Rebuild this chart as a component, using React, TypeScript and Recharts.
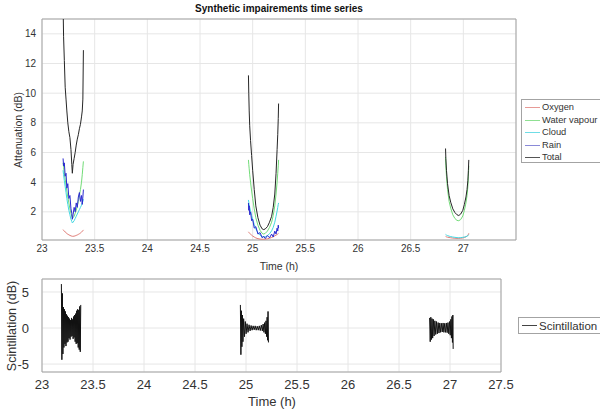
import { CartesianGrid, Line, LineChart, ReferenceArea, XAxis, YAxis } from 'recharts';

// ---- attenuation passes (h, dB) ----
const t1 = [23.2, 23.205, 23.212, 23.22, 23.228, 23.236, 23.245, 23.255, 23.265, 23.275, 23.283, 23.288, 23.295, 23.305, 23.315, 23.325, 23.335, 23.345, 23.355, 23.365, 23.375, 23.382, 23.388, 23.393];
const oxygen1 = [0.8, 0.75, 0.7, 0.64, 0.59, 0.54, 0.49, 0.45, 0.41, 0.38, 0.36, 0.35, 0.35, 0.36, 0.38, 0.41, 0.44, 0.48, 0.52, 0.57, 0.63, 0.68, 0.73, 0.78];
const water1 = [5.3, 5.0, 4.6, 4.2, 3.8, 3.4, 3.0, 2.6, 2.2, 1.9, 1.7, 1.6, 1.6, 1.7, 1.9, 2.1, 2.4, 2.7, 3.1, 3.5, 4.0, 4.5, 5.0, 5.4];
const cloud1 = [4.8, 4.5, 4.1, 3.7, 3.3, 2.9, 2.5, 2.1, 1.8, 1.5, 1.35, 1.25, 1.3, 1.4, 1.55, 1.7, 1.85, 2.0, 2.15, 2.3, 2.45, 2.6, 2.7, 2.85];
const rain1 = [5.6, 5.1, 5.3, 4.4, 4.6, 3.6, 3.9, 2.9, 3.1, 2.2, 1.9, 1.5, 1.8, 2.3, 2.0, 2.6, 2.3, 3.0, 3.3, 2.7, 3.1, 2.5, 3.0, 3.5];
const total1 = [16, 13.8, 12.2, 10.4, 9.6, 8.8, 8.0, 7.4, 7.0, 6.2, 5.2, 4.6, 5.2, 5.6, 6.0, 6.5, 6.9, 7.2, 7.6, 7.9, 8.4, 8.8, 9.6, 12.9];

const t2 = [24.96, 24.963, 24.967, 24.972, 24.98, 24.99, 25.0, 25.015, 25.03, 25.05, 25.07, 25.09, 25.105, 25.12, 25.14, 25.16, 25.18, 25.195, 25.21, 25.222, 25.232, 25.238, 25.243, 25.246];
const oxygen2 = [0.65, 0.62, 0.58, 0.54, 0.49, 0.43, 0.37, 0.3, 0.24, 0.19, 0.16, 0.15, 0.15, 0.16, 0.18, 0.22, 0.27, 0.32, 0.38, 0.43, 0.47, 0.5, 0.53, 0.55];
const water2 = [5.5, 5.2, 4.9, 4.5, 4.0, 3.4, 2.9, 2.2, 1.6, 1.1, 0.75, 0.55, 0.5, 0.55, 0.7, 0.95, 1.3, 1.75, 2.4, 3.2, 4.0, 4.6, 5.1, 5.5];
const cloud2 = [2.8, 2.65, 2.5, 2.3, 2.05, 1.75, 1.5, 1.15, 0.85, 0.6, 0.42, 0.33, 0.3, 0.32, 0.4, 0.52, 0.72, 0.95, 1.3, 1.7, 2.05, 2.3, 2.5, 2.6];
const rain2 = [2.6, 2.1, 2.4, 1.8, 2.0, 1.4, 1.5, 0.9, 1.0, 0.5, 0.6, 0.25, 0.35, 0.2, 0.4, 0.25, 0.5, 0.3, 0.7, 0.5, 0.9, 0.7, 1.1, 0.9];
const total2 = [11.2, 10.0, 8.8, 7.8, 6.8, 5.8, 4.8, 3.5, 2.4, 1.6, 1.1, 0.85, 0.8, 0.85, 1.0, 1.3, 1.7, 2.3, 3.2, 4.6, 6.2, 7.2, 8.3, 9.3];

const t3 = [26.831, 26.834, 26.84, 26.85, 26.865, 26.88, 26.9, 26.92, 26.94, 26.957, 26.975, 26.995, 27.01, 27.025, 27.035, 27.043, 27.048, 27.052];
const oxygen3 = [0.35, 0.33, 0.31, 0.29, 0.27, 0.25, 0.23, 0.22, 0.21, 0.21, 0.22, 0.24, 0.27, 0.31, 0.36, 0.42, 0.48, 0.55];
const water3 = [5.7, 5.1, 4.4, 3.5, 2.7, 2.25, 1.8, 1.55, 1.42, 1.4, 1.48, 1.72, 2.1, 2.6, 3.1, 3.7, 4.4, 5.1];
const cloud3 = [0.48, 0.46, 0.43, 0.4, 0.36, 0.33, 0.3, 0.28, 0.26, 0.25, 0.26, 0.28, 0.3, 0.33, 0.36, 0.39, 0.42, 0.45];
const rain3: number[] = [];
const total3 = [6.27, 5.6, 4.8, 3.9, 3.1, 2.65, 2.2, 1.95, 1.8, 1.75, 1.85, 2.1, 2.5, 3.0, 3.5, 4.1, 4.8, 5.5];

// ---- scintillation passes (h, dB) ----
const s1t = [23.19, 23.195, 23.2, 23.205, 23.21, 23.215, 23.22, 23.225, 23.23, 23.235, 23.24, 23.245, 23.25, 23.255, 23.26, 23.265, 23.27, 23.275, 23.28, 23.285, 23.29, 23.295, 23.3, 23.305, 23.31, 23.315, 23.32, 23.325, 23.33, 23.335, 23.34, 23.345, 23.35, 23.355, 23.36, 23.365, 23.37, 23.375, 23.38];
const s1v = [6.1, -4.4, 4.8, -3.6, 2.9, -2.7, 2.6, -2.2, 2.3, -2.5, 1.9, -2.0, 1.7, -1.9, 1.5, -1.4, 1.3, -1.6, 1.1, -1.2, 1.4, -1.1, 1.2, -1.5, 1.6, -1.3, 1.8, -1.9, 2.0, -2.2, 2.4, -2.1, 2.6, -2.7, 2.5, -3.0, 3.0, -3.3, 3.2];
const s2t = [24.945, 24.95, 24.955, 24.96, 24.965, 24.97, 24.977, 24.985, 24.993, 25.001, 25.01, 25.02, 25.03, 25.04, 25.05, 25.06, 25.07, 25.08, 25.09, 25.1, 25.11, 25.12, 25.13, 25.14, 25.15, 25.16, 25.168, 25.176, 25.183, 25.19, 25.196, 25.202, 25.207, 25.212, 25.216, 25.22];
const s2v = [3.2, -3.7, 2.4, -2.6, 1.8, -1.9, 1.3, -1.2, 0.9, -0.8, 0.6, -0.6, 0.45, -0.4, 0.35, -0.3, 0.3, -0.25, 0.3, -0.3, 0.25, -0.3, 0.3, -0.35, 0.4, -0.4, 0.55, -0.6, 0.75, -0.8, 1.0, -1.2, 1.5, -1.7, 2.3, -2.0];
const s3t = [26.8, 26.806, 26.812, 26.818, 26.824, 26.83, 26.837, 26.844, 26.852, 26.86, 26.868, 26.876, 26.884, 26.892, 26.9, 26.908, 26.916, 26.924, 26.932, 26.94, 26.948, 26.956, 26.964, 26.972, 26.98, 26.988, 26.995, 27.002, 27.008, 27.014, 27.019, 27.024, 27.028, 27.031];
const s3v = [1.4, -1.9, 1.5, -1.6, 1.3, -1.4, 1.2, -1.1, 1.0, -0.9, 0.9, -0.8, 0.75, -0.7, 0.7, -0.6, 0.65, -0.55, 0.7, -0.6, 0.65, -0.6, 0.7, -0.65, 0.75, -0.8, 0.9, -1.0, 1.2, -1.4, 1.6, -2.0, 1.8, -2.9];

const topTicksX = [23, 23.5, 24, 24.5, 25, 25.5, 26, 26.5, 27];
const topTicksY = [2, 4, 6, 8, 10, 12, 14];
const botTicksX = [23, 23.5, 24, 24.5, 25, 25.5, 26, 26.5, 27, 27.5];
const botTicksY = [-5, 0, 5];

const SERIES = [
  { key: 'oxygen', name: 'Oxygen', color: '#e07a74' },
  { key: 'water', name: 'Water vapour', color: '#72dc78' },
  { key: 'cloud', name: 'Cloud', color: '#44d8e2' },
  { key: 'rain', name: 'Rain', color: '#2a2ad0' },
  { key: 'total', name: 'Total', color: '#262626' },
];
const legendColors: Record<string, string> = {
  oxygen: '#e79a96',
  water: '#8fe092',
  cloud: '#6fdde6',
  rain: '#8a8ad8',
  total: '#555',
};

const passes = [
  { t: t1, oxygen: oxygen1, water: water1, cloud: cloud1, rain: rain1, total: total1 },
  { t: t2, oxygen: oxygen2, water: water2, cloud: cloud2, rain: rain2, total: total2 },
  { t: t3, oxygen: oxygen3, water: water3, cloud: cloud3, rain: rain3, total: total3 },
];

const attRows: Record<string, number | null>[] = [];
passes.forEach((p, i) => {
  if (i > 0) {
    const prev = passes[i - 1].t;
    attRows.push({ t: (prev[prev.length - 1] + p.t[0]) / 2, oxygen: null, water: null, cloud: null, rain: null, total: null });
  }
  p.t.forEach((t, j) => {
    attRows.push({
      t,
      oxygen: p.oxygen[j] ?? null,
      water: p.water[j] ?? null,
      cloud: p.cloud[j] ?? null,
      rain: p.rain[j] ?? null,
      total: p.total[j] ?? null,
    });
  });
});

const scintPasses = [
  [s1t, s1v],
  [s2t, s2v],
  [s3t, s3v],
];
const scintRows: { t: number; v: number | null }[] = [];
scintPasses.forEach(([ts, vs], i) => {
  if (i > 0) {
    const prev = scintPasses[i - 1][0];
    scintRows.push({ t: (prev[prev.length - 1] + ts[0]) / 2, v: null });
  }
  ts.forEach((t, j) => scintRows.push({ t, v: vs[j] }));
});

const FONT = 'Arial, "Liberation Sans", sans-serif';
const GRID = '#e6e6e6';
const BOX = '#a3a3a3';
const TXT = '#333';

export default function App() {
  return (
    <div
      style={{
        position: 'absolute',
        left: 0,
        top: 0,
        width: 600,
        height: 410,
        overflow: 'hidden',
        background: '#fff',
        fontFamily: FONT,
        color: TXT,
      }}
    >
      <div style={{ position: 'absolute', left: 79, width: 400, top: 3, textAlign: 'center', fontSize: 10, fontWeight: 'bold', color: '#111' }}>
        Synthetic impairements time series
      </div>

      <div style={{ position: 'absolute', left: 0, top: 0 }}>
        <LineChart width={600} height={260} data={attRows} margin={{ top: 19, right: 84, bottom: 0, left: 12 }}>
          <CartesianGrid stroke={GRID} />
          <XAxis
            type="number"
            dataKey="t"
            domain={[23, 27.5]}
            ticks={topTicksX}
            allowDataOverflow
            axisLine={false}
            tickLine={false}
            tickSize={4}
            tickMargin={1}
            height={20}
            tick={{ fontSize: 10, fill: TXT }}
          />
          <YAxis
            domain={[0.1, 15]}
            ticks={topTicksY}
            allowDataOverflow
            axisLine={false}
            tickLine={false}
            tickSize={4}
            tickMargin={2}
            width={30}
            tick={{ fontSize: 10, fill: TXT }}
          />
          <ReferenceArea x1={23} x2={27.5} y1={0.1} y2={15} fill="none" stroke={BOX} strokeWidth={1} />
          {SERIES.map((s) => (
            <Line
              key={s.key}
              dataKey={s.key}
              name={s.name}
              stroke={s.color}
              strokeWidth={1}
              dot={false}
              type="linear"
              isAnimationActive={false}
            />
          ))}
        </LineChart>
      </div>

      <div style={{ position: 'absolute', left: 179, width: 200, top: 260, textAlign: 'center', fontSize: 10.5 }}>Time (h)</div>
      <div
        style={{
          position: 'absolute',
          left: 18,
          top: 130,
          transform: 'translate(-50%, -50%) rotate(-90deg)',
          whiteSpace: 'nowrap',
          fontSize: 10.5,
        }}
      >
        Attenuation (dB)
      </div>

      <div style={{ position: 'absolute', left: 521, top: 99, width: 100, height: 62, border: `1px solid ${BOX}`, background: '#fff' }}>
        {SERIES.map((s, i) => (
          <div key={s.key} style={{ position: 'absolute', left: 3, top: [1, 14, 26, 39, 51][i], height: 12, display: 'flex', alignItems: 'center', fontSize: 9.3, whiteSpace: 'nowrap' }}>
            <span style={{ display: 'inline-block', width: 15, height: 0, borderTop: `1px solid ${legendColors[s.key]}`, marginRight: 2 }} />
            {s.name}
          </div>
        ))}
      </div>

      <div style={{ position: 'absolute', left: 0, top: 260 }}>
        <LineChart width={600} height={150} data={scintRows} margin={{ top: 19, right: 99, bottom: 16, left: 10 }}>
          <CartesianGrid stroke={GRID} />
          <XAxis
            type="number"
            dataKey="t"
            domain={[23, 27.5]}
            ticks={botTicksX}
            allowDataOverflow
            axisLine={false}
            tickLine={false}
            tickSize={5}
            tickMargin={3}
            height={22}
            tick={{ fontSize: 13, fill: TXT }}
          />
          <YAxis
            domain={[-6.1, 6.8]}
            ticks={botTicksY}
            allowDataOverflow
            axisLine={false}
            tickLine={false}
            tickSize={8}
            tickMargin={5}
            width={32}
            tick={{ fontSize: 13, fill: TXT }}
          />
          <ReferenceArea x1={23} x2={27.5} y1={-6.1} y2={6.8} fill="none" stroke={BOX} strokeWidth={1} />
          <Line dataKey="v" name="Scintillation" stroke="#111" strokeWidth={1} dot={false} type="linear" isAnimationActive={false} />
        </LineChart>
      </div>

      <div style={{ position: 'absolute', left: 172, width: 200, top: 394, textAlign: 'center', fontSize: 13 }}>Time (h)</div>
      <div
        style={{
          position: 'absolute',
          left: 12,
          top: 326,
          transform: 'translate(-50%, -50%) rotate(-90deg)',
          whiteSpace: 'nowrap',
          fontSize: 12.5,
        }}
      >
        Scintillation (dB)
      </div>

      <div style={{ position: 'absolute', left: 518, top: 317, width: 100, height: 15, border: `1px solid ${BOX}`, background: '#fff' }}>
        <div style={{ position: 'absolute', left: 3, top: 0, height: 15, display: 'flex', alignItems: 'center', fontSize: 11.5, whiteSpace: 'nowrap' }}>
          <span style={{ display: 'inline-block', width: 15, height: 0, borderTop: '1px solid #444', marginRight: 2 }} />
          Scintillation
        </div>
      </div>
    </div>
  );
}
